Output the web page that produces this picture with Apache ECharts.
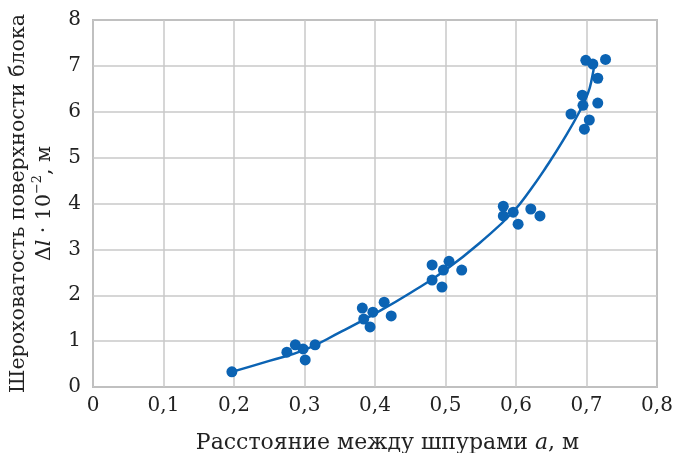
<!DOCTYPE html>
<html><head><meta charset="utf-8">
<script src="https://cdn.jsdelivr.net/npm/echarts@6/dist/echarts.min.js"></script>
<style>html,body{margin:0;padding:0;background:#fff}#c{width:684px;height:453px}</style>
</head><body><div id="c"></div>
<script>
const pointsX = [0.197,0.275,0.287,0.298,0.301,0.315,0.382,0.384,0.393,0.397,0.413,0.423,0.481,0.481,0.495,0.497,0.505,0.523,0.582,0.582,0.596,0.603,0.621,0.634,0.678,0.694,0.695,0.697,0.699,0.704,0.709,0.716,0.716,0.727];
const pointsY = [0.33,0.76,0.92,0.83,0.59,0.92,1.72,1.48,1.31,1.63,1.85,1.55,2.66,2.33,2.18,2.55,2.74,2.55,3.94,3.73,3.81,3.55,3.88,3.73,5.95,6.36,6.14,5.62,7.12,5.82,7.04,6.73,6.19,7.14];
const curveX = [0.197,0.25,0.30,0.35,0.40,0.45,0.50,0.556,0.596,0.62,0.643,0.667,0.69,0.702,0.708,0.711];
const curveY = [0.33,0.57,0.81,1.19,1.60,2.05,2.55,3.24,3.82,4.29,4.80,5.38,6.00,6.40,6.75,7.02];
const xTicks = ['0','0,1','0,2','0,3','0,4','0,5','0,6','0,7','0,8'];
const F = 'DejaVu Serif';
const blue = '#0b63b3';
const chart = echarts.init(document.getElementById('c'));
chart.setOption({
  animation:false,
  grid:{left:93,right:27,top:20,bottom:66,containLabel:false,outerBoundsMode:'none',show:true,borderColor:'#8c8c8c',borderWidth:1.5},
  xAxis:{type:'value',min:0,max:0.8,interval:0.1,
    axisLine:{show:false},axisTick:{show:false},
    splitLine:{show:true,lineStyle:{color:'#c8c8c8',width:1.5}},
    axisLabel:{fontFamily:F,fontSize:20,color:'#222',margin:9,formatter:(v)=>xTicks[Math.round(v*10)]},
    name:'Расстояние между шпурами {i|a}, м',nameLocation:'middle',nameGap:45,
    nameTextStyle:{fontFamily:F,fontSize:22,color:'#222',padding:[0,0,0,25],rich:{i:{fontFamily:F,fontSize:22,fontStyle:'italic',color:'#222'}}}
  },
  yAxis:{type:'value',min:0,max:8,interval:1,
    axisLine:{show:false},axisTick:{show:false},
    splitLine:{show:true,lineStyle:{color:'#c8c8c8',width:1.5}},
    axisLabel:{fontFamily:F,fontSize:20,color:'#222',margin:12},
    name:'{a|Шероховатость поверхности блока}\n{a|Δ}{i|l}{a| · 10}{s|−2}{a|, м}',
    nameLocation:'middle',nameGap:20,nameRotate:90,
    nameTextStyle:{fontFamily:F,fontSize:20.5,color:'#222',lineHeight:26,
      rich:{a:{fontFamily:F,fontSize:20.5,color:'#222',lineHeight:26},
            i:{fontFamily:F,fontSize:20.5,fontStyle:'italic',color:'#222',lineHeight:26},
            s:{fontFamily:F,fontSize:13,color:'#222',verticalAlign:'top',lineHeight:26,padding:[0,0,8,0]}}}
  },
  series:[
    {type:'line',data:curveX.map((x,i)=>[x,curveY[i]]),smooth:0.5,showSymbol:false,
     lineStyle:{color:blue,width:2.5},z:2},
    {type:'scatter',data:pointsX.map((x,i)=>[x,pointsY[i]]),symbolSize:11,
     itemStyle:{color:blue,opacity:1},z:3}
  ]
});
</script></body></html>
